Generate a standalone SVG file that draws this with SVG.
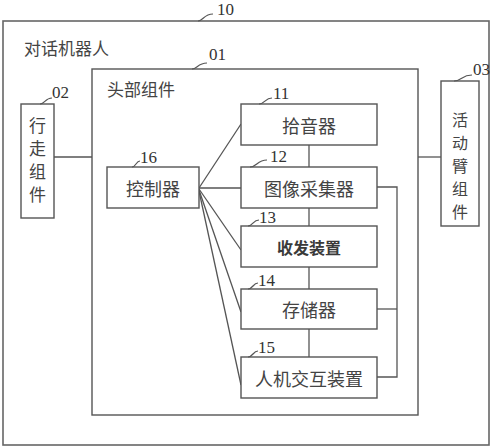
<svg xmlns="http://www.w3.org/2000/svg" width="500" height="448" viewBox="0 0 500 448">
<style>
.box{fill:#fff;stroke:#555;stroke-width:1.4}
.outer{fill:#fff;stroke:#666;stroke-width:1.6}
.ln{fill:none;stroke:#555;stroke-width:1.3}
.ld{fill:none;stroke:#555;stroke-width:1.2}
.t{font-family:"Noto Sans CJK SC","Noto Sans",sans-serif;font-size:18px;fill:#444;text-anchor:middle;dominant-baseline:central}
.tl{font-family:"Noto Sans CJK SC","Noto Sans",sans-serif;font-size:17px;fill:#444}
.tb{font-family:"Noto Sans CJK SC","Noto Sans",sans-serif;font-size:16px;font-weight:bold;fill:#3a3a3a;text-anchor:middle;dominant-baseline:central}
.n{font-family:"Liberation Serif",serif;font-size:17px;fill:#333}
</style>
<g id="n10">
<rect class="outer" x="3" y="21" width="486" height="424"/>
<text class="tl" x="24" y="55">对话机器人</text>
<path class="ld" d="M198,21 c5,0 6,-7 15,-7"/>
<text class="n" x="217" y="15">10</text>
</g>
<g id="n01">
<rect class="box" x="92" y="69" width="326" height="346"/>
<text class="tl" x="107" y="96">头部组件</text>
<path class="ld" d="M192,69 c5,0 6,-6 15,-6"/>
<text class="n" x="209" y="60">01</text>
</g>
<g id="connectors">
<line class="ln" x1="54" y1="157" x2="92" y2="157"/>
<line class="ln" x1="418" y1="157" x2="441" y2="157"/>
<line class="ln" x1="309" y1="145" x2="309" y2="167"/>
<line class="ln" x1="309" y1="208" x2="309" y2="226"/>
<line class="ln" x1="309" y1="267" x2="309" y2="289"/>
<line class="ln" x1="309" y1="329" x2="309" y2="357"/>
<polyline class="ln" points="377,187 397,187 397,377 377,377"/>
<line class="ln" x1="377" y1="309" x2="397" y2="309"/>
<line class="ln" x1="199" y1="188" x2="241" y2="124"/>
<line class="ln" x1="199" y1="188" x2="241" y2="188"/>
<line class="ln" x1="199" y1="189" x2="241" y2="250"/>
<line class="ln" x1="199" y1="190" x2="241" y2="312"/>
<line class="ln" x1="199" y1="191" x2="241" y2="385"/>
</g>
<g id="n02">
<rect class="box" x="21" y="104" width="33" height="114"/>
<text class="t" x="37.5" y="124" style="font-size:17px">行</text>
<text class="t" x="37.5" y="147" style="font-size:17px">走</text>
<text class="t" x="37.5" y="170" style="font-size:17px">组</text>
<text class="t" x="37.5" y="193" style="font-size:17px">件</text>
<path class="ld" d="M40,104 c5,0 5,-6 12,-6"/>
<text class="n" x="52" y="98">02</text>
</g>
<g id="n03">
<rect class="box" x="441" y="81" width="38" height="145"/>
<text class="t" x="460" y="119" style="font-size:16px">活</text>
<text class="t" x="460" y="142" style="font-size:16px">动</text>
<text class="t" x="460" y="165" style="font-size:16px">臂</text>
<text class="t" x="460" y="188" style="font-size:16px">组</text>
<text class="t" x="460" y="211" style="font-size:16px">件</text>
<path class="ld" d="M454,81 c7,0 8,-6 18,-6"/>
<text class="n" x="473" y="75">03</text>
</g>
<g id="n16">
<rect class="box" x="107" y="167" width="92" height="41"/>
<text class="t" x="153" y="187.5">控制器</text>
<path class="ld" d="M132,167 c4,0 4,-6 8,-6"/>
<text class="n" x="140" y="163">16</text>
</g>
<g id="n11">
<rect class="box" x="241" y="104" width="136" height="41"/>
<text class="t" x="309" y="124.5">拾音器</text>
<path class="ld" d="M259,104 c6,0 6,-6 13,-6"/>
<text class="n" x="273" y="99">11</text>
</g>
<g id="n12">
<rect class="box" x="241" y="167" width="136" height="41"/>
<text class="t" x="309" y="187.5">图像采集器</text>
<path class="ld" d="M250,167 c7,0 7,-7 17,-7"/>
<text class="n" x="270" y="162">12</text>
</g>
<g id="n13">
<rect class="box" x="241" y="226" width="136" height="41"/>
<text class="tb" x="309" y="246.5">收发装置</text>
<path class="ld" d="M248,226 c5,0 5,-6 11,-6"/>
<text class="n" x="259" y="223">13</text>
</g>
<g id="n14">
<rect class="box" x="241" y="289" width="136" height="40"/>
<text class="t" x="309" y="309">存储器</text>
<path class="ld" d="M248,289 c5,0 5,-6 10,-6"/>
<text class="n" x="258" y="286">14</text>
</g>
<g id="n15">
<rect class="box" x="241" y="357" width="136" height="41"/>
<text class="t" x="309" y="377.5">人机交互装置</text>
<path class="ld" d="M248,357 c5,0 5,-6 10,-6"/>
<text class="n" x="258" y="353">15</text>
</g>
</svg>
